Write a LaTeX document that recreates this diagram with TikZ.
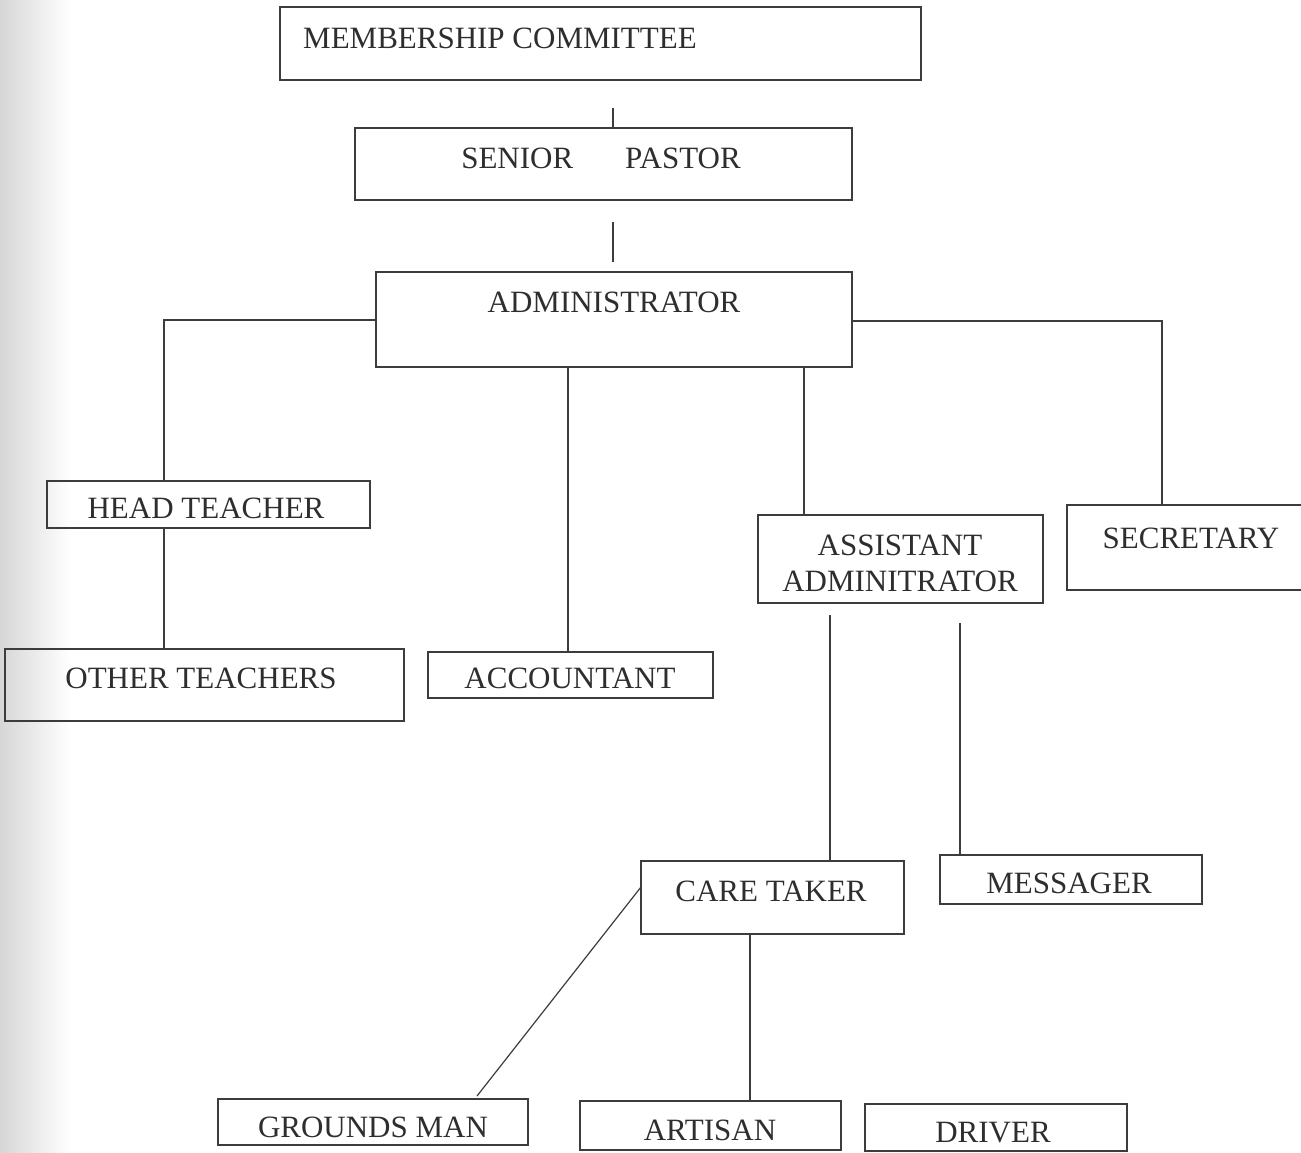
\documentclass[tikz,border=0pt]{standalone}
\usepackage{fontspec}
\setmainfont{Liberation Serif}
\usetikzlibrary{fit}
\definecolor{linec}{HTML}{3C3C3C}
\definecolor{txtc}{HTML}{2E2E2E}
\tikzset{
  box/.style={draw=linec, line width=1.6pt, inner sep=0pt, rectangle},
  lbl/.style={text=txtc, inner sep=0pt, font=\fontsize{31}{36}\selectfont},
  conn/.style={draw=linec, line width=1.5pt}
}
\begin{document}
\begin{tikzpicture}[x=1pt,y=-1pt]
\useasboundingbox (0,0) rectangle (1301,1153);
\fill[white] (0,0) rectangle (1301,1153);
\shade[left color=black!16, right color=white] (0,0) rectangle (70,1153);

% boxes
\node[box, fit={(280,7) (921,80)}] (mc) {};
\node[box, fit={(355,128) (852,200)}] (sp) {};
\node[box, fit={(376,272) (852,367)}] (adm) {};
\node[box, fit={(47,481) (370,528)}] (ht) {};
\node[box, fit={(5,649) (404,721)}] (ot) {};
\node[box, fit={(428,652) (713,698)}] (acc) {};
\node[box, fit={(758,515) (1043,603)}] (aa) {};
\node[box, fit={(1067,505) (1320,590)}] (sec) {};
\node[box, fit={(641,861) (904,934)}] (ct) {};
\node[box, fit={(940,855) (1202,904)}] (msg) {};
\node[box, fit={(218,1099) (528,1145)}] (gm) {};
\node[box, fit={(580,1101) (841,1150)}] (art) {};
\node[box, fit={(865,1104) (1127,1151)}] (drv) {};

% texts
\node[lbl, anchor=west] (mct) at (303,38) {MEMBERSHIP COMMITTEE};
\node[lbl] (spt) at (601,158) {SENIOR\hspace{52pt}PASTOR};
\node[lbl] (admt) at (614,302) {ADMINISTRATOR};
\node[lbl] (htt) at (206,508) {HEAD TEACHER};
\node[lbl] (ott) at (201,678) {OTHER TEACHERS};
\node[lbl] (acct) at (570,678) {ACCOUNTANT};
\node[lbl, align=center] (aat) at (900,563) {ASSISTANT\\ADMINITRATOR};
\node[lbl] (sect) at (1191,538) {SECRETARY};
\node[lbl] (ctt) at (771,891) {CARE TAKER};
\node[lbl] (msgt) at (1069,883) {MESSAGER};
\node[lbl] (gmt) at (373,1127) {GROUNDS MAN};
\node[lbl] (artt) at (710,1130) {ARTISAN};
\node[lbl] (drvt) at (993,1133) {DRIVER};

% connectors
\coordinate (c1) at (613,108);
\draw[conn] (c1) -- (c1 |- sp.north);
\coordinate (c2) at (613,222);
\coordinate (c3) at (613,262);
\draw[conn] (c2) -- (c3);

\coordinate (hl) at (164,320);
\draw[conn] (adm.west |- hl) -- (hl) -- (hl |- ht.north);
\draw[conn] (hl |- ht.south) -- (hl |- ot.north);

\coordinate (ac) at (568,367);
\draw[conn] (ac |- adm.south) -- (ac |- acc.north);
\coordinate (aax) at (804,367);
\draw[conn] (aax |- adm.south) -- (aax |- aa.north);

\coordinate (sr) at (1162,321);
\draw[conn] (adm.east |- sr) -- (sr) -- (sr |- sec.north);

\coordinate (c4) at (830,615);
\draw[conn] (c4) -- (c4 |- ct.north);
\coordinate (c5) at (960,623);
\draw[conn] (c5) -- (c5 |- msg.north);

\coordinate (gl) at (641,887);
\coordinate (ge) at (477,1096);
\draw[conn, line width=1.2pt] (gl) -- (ge);
\coordinate (ctb) at (750,934);
\draw[conn] (ctb |- ct.south) -- (ctb |- art.north);
\end{tikzpicture}
\end{document}
